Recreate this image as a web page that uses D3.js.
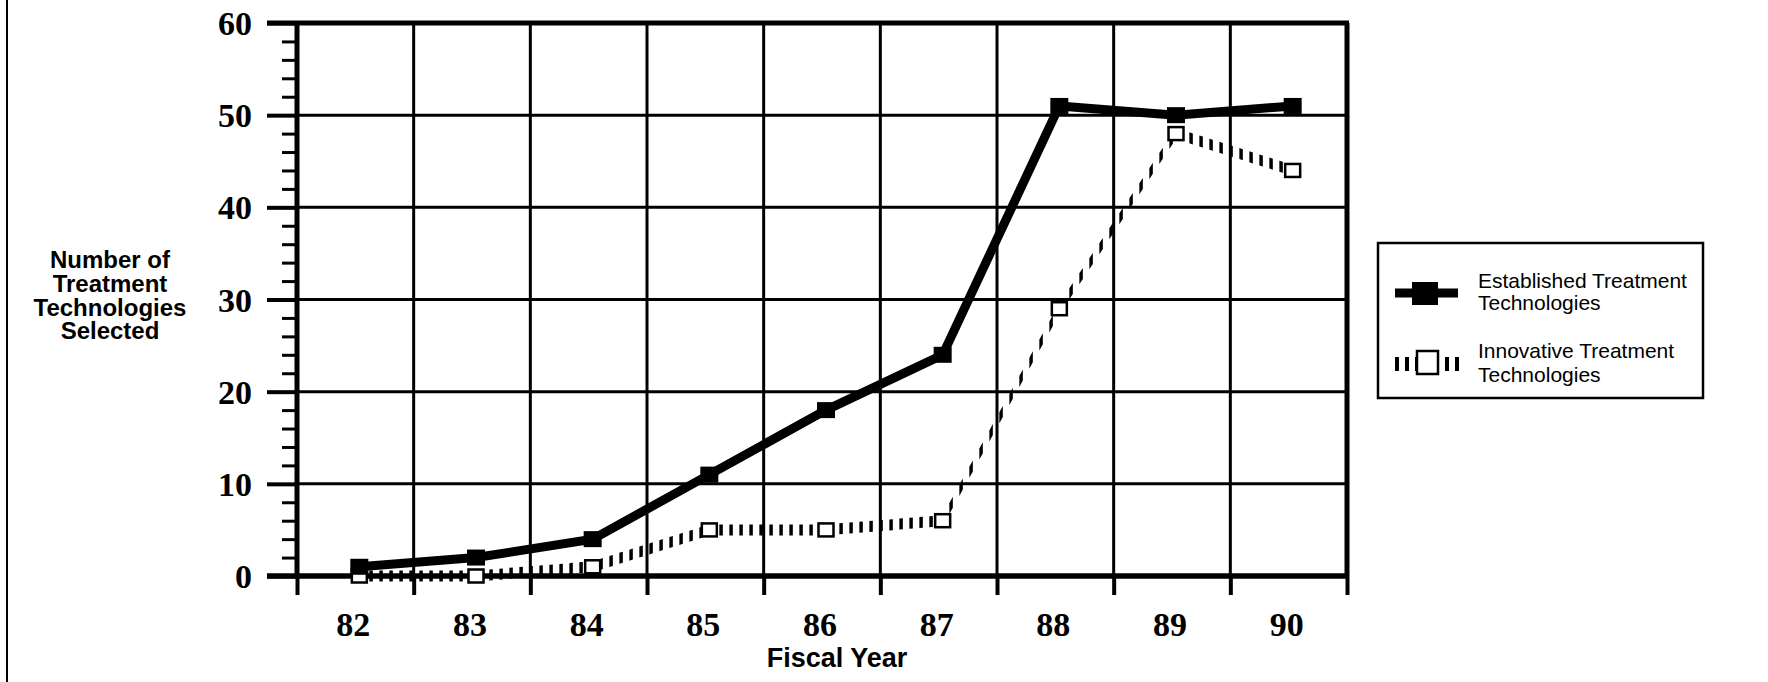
<!DOCTYPE html>
<html>
<head>
<meta charset="utf-8">
<script src="https://cdn.jsdelivr.net/npm/d3@7"></script>
<style>
  body { margin: 0; background: #fff; }
  svg { display: block; }
  .ylab text, .xlab text { font-family: "Liberation Serif", "Times New Roman", serif; font-weight: bold; font-size: 34px; fill: #000; }
  .title { font-family: "Liberation Sans", Arial, sans-serif; font-weight: bold; fill: #000; }
  .legend text { font-family: "Liberation Sans", Arial, sans-serif; font-size: 21px; fill: #000; }
</style>
</head>
<body>
<svg width="1768" height="682"></svg>
<script>
// values
var years = ["82", "83", "84", "85", "86", "87", "88", "89", "90"];
var established = [1, 2, 4, 11, 18, 24, 51, 50, 51];
var innovative = [0, 0, 1, 5, 5, 6, 29, 48, 44];
var yTicks = [0, 10, 20, 30, 40, 50, 60];
var yMinor = [2, 4, 6, 8, 12, 14, 16, 18, 22, 24, 26, 28, 32, 34, 36, 38, 42, 44, 46, 48, 52, 54, 56, 58];
var legendNames = [["Established Treatment", "Technologies"], ["Innovative Treatment", "Technologies"]];
var yTitle = ["Number of", "Treatment", "Technologies", "Selected"];

var svg = d3.select("svg"),
    margin = {top: 23, left: 297},
    width = 1050,
    height = 553,
    g = svg.append("g").attr("transform", "translate(" + margin.left + "," + margin.top + ")");

svg.append("rect").attr("width", 1768).attr("height", 682).attr("fill", "#fff").lower();

// scan border on the far left
svg.append("line")
    .attr("x1", 7).attr("x2", 7).attr("y1", 0).attr("y2", 682)
    .attr("stroke", "#000").attr("stroke-width", 2);

var x = d3.scaleBand().domain(years).range([0, width]);
var xEdge = d3.scaleLinear().domain([0, years.length]).range([0, width]);
var y = d3.scaleLinear().domain([0, 60]).range([height, 0]);

function cx(i) { return x(years[i]) + x.bandwidth() / 2; }

// horizontal grid lines
g.append("g")
  .selectAll("line")
  .data(yTicks.slice(1, -1))
  .enter().append("line")
    .attr("x1", 0).attr("x2", width)
    .attr("y1", function(d) { return y(d); })
    .attr("y2", function(d) { return y(d); })
    .attr("stroke", "#000").attr("stroke-width", 3);

// vertical grid lines at the category edges
g.append("g")
  .selectAll("line")
  .data(d3.range(1, years.length))
  .enter().append("line")
    .attr("x1", function(d) { return xEdge(d); })
    .attr("x2", function(d) { return xEdge(d); })
    .attr("y1", 0).attr("y2", height)
    .attr("stroke", "#000").attr("stroke-width", 3);

// frame top and right
g.append("line").attr("x1", -30).attr("x2", width + 2).attr("y1", 0).attr("y2", 0)
    .attr("stroke", "#000").attr("stroke-width", 5);
g.append("line").attr("x1", width).attr("x2", width).attr("y1", 0).attr("y2", height)
    .attr("stroke", "#000").attr("stroke-width", 5);

// Y axis: major ticks with labels, minor ticks
var yAxis = d3.axisLeft(y).tickValues(yTicks).tickSize(30).tickPadding(15).tickFormat(d3.format("d"));
var ya = g.append("g").attr("class", "ylab").call(yAxis);
ya.select(".domain").remove();
ya.selectAll(".tick line").attr("stroke", "#000").attr("stroke-width", 4);
ya.selectAll(".tick text").attr("font-size", null).attr("font-family", null).attr("dy", "0.34em");

var ym = g.append("g").call(d3.axisLeft(y).tickValues(yMinor).tickSize(15).tickFormat(""));
ym.select(".domain").remove();
ym.selectAll(".tick line").attr("stroke", "#000").attr("stroke-width", 3);

g.append("line").attr("x1", 0).attr("x2", 0).attr("y1", -2).attr("y2", height)
    .attr("stroke", "#000").attr("stroke-width", 5);

// X axis: ticks at category edges, labels at centres
var xe = g.append("g").attr("transform", "translate(0," + height + ")")
    .call(d3.axisBottom(xEdge).tickValues(d3.range(0, years.length + 1)).tickSize(19).tickFormat(""));
xe.select(".domain").remove();
xe.selectAll(".tick line").attr("stroke", "#000").attr("stroke-width", 4);

var xl = g.append("g").attr("class", "xlab").attr("transform", "translate(-2," + height + ")")
    .call(d3.axisBottom(x).tickSize(0).tickPadding(60));
xl.select(".domain").remove();
xl.selectAll(".tick text").attr("font-size", null).attr("font-family", null).attr("dy", "0");

g.append("line").attr("x1", -30).attr("x2", width + 2).attr("y1", height).attr("y2", height)
    .attr("stroke", "#000").attr("stroke-width", 5.5);

// axis titles
svg.append("text").attr("class", "title")
    .attr("x", 837).attr("y", 667)
    .attr("text-anchor", "middle").attr("font-size", 27)
    .text("Fiscal Year");

svg.append("text").attr("class", "title")
    .attr("x", 110).attr("y", 268)
    .attr("text-anchor", "middle").attr("font-size", 24)
  .selectAll("tspan")
  .data(yTitle)
  .enter().append("tspan")
    .attr("x", 110)
    .attr("dy", function(d, i) { return i ? 23.8 : 0; })
    .text(function(d) { return d; });

// hatched line: short vertical strokes placed every `step` px of x
function hatch(pts, step, dashW, pen) {
  var out = "";
  function yAt(px) {
    for (var i = 0; i < pts.length - 1; i++) {
      var a = pts[i], b = pts[i + 1];
      if (px <= b[0] || i === pts.length - 2) {
        var t = (px - a[0]) / (b[0] - a[0]);
        return a[1] + t * (b[1] - a[1]);
      }
    }
  }
  var xEnd = pts[pts.length - 1][0];
  for (var t = pts[0][0]; t < xEnd; t += step) {
    var t2 = Math.min(t + dashW, xEnd);
    var ya1 = yAt(t), yb1 = yAt(t2);
    out += "M" + t + "," + (ya1 - pen / 2) + "L" + t2 + "," + (yb1 - pen / 2) +
           "L" + t2 + "," + (yb1 + pen / 2) + "L" + t + "," + (ya1 + pen / 2) + "Z";
  }
  return out;
}

// the plotted points sit a little right of the band centres in the original
var series = g.append("g").attr("transform", "translate(4,0)");

var innovPts = innovative.map(function(d, i) { return [cx(i), y(d)]; });
series.append("path")
    .attr("d", hatch(innovPts, 10, 3.5, 11))
    .attr("fill", "#000");

series.append("g")
  .selectAll("rect")
  .data(innovative)
  .enter().append("rect")
    .attr("x", function(d, i) { return cx(i) - 7.5; })
    .attr("y", function(d) { return y(d) - 6.5; })
    .attr("width", 15).attr("height", 13)
    .attr("fill", "#fff").attr("stroke", "#000").attr("stroke-width", 2.5);

var line = d3.line()
    .x(function(d, i) { return cx(i); })
    .y(function(d) { return y(d); });

series.append("path")
    .attr("d", line(established))
    .attr("fill", "none").attr("stroke", "#000")
    .attr("stroke-width", 9).attr("stroke-linejoin", "miter").attr("stroke-miterlimit", 2);

series.append("g")
  .selectAll("rect")
  .data(established)
  .enter().append("rect")
    .attr("x", function(d, i) { return cx(i) - 9; })
    .attr("y", function(d) { return y(d) - 8; })
    .attr("width", 18).attr("height", 16)
    .attr("fill", "#000");

// legend
var lg = svg.append("g").attr("class", "legend");
lg.append("rect")
    .attr("x", 1378).attr("y", 243).attr("width", 325).attr("height", 155)
    .attr("fill", "#fff").attr("stroke", "#000").attr("stroke-width", 2.5);

lg.append("line").attr("x1", 1395).attr("x2", 1458).attr("y1", 293).attr("y2", 293)
    .attr("stroke", "#000").attr("stroke-width", 9);
lg.append("rect").attr("x", 1412).attr("y", 282).attr("width", 26).attr("height", 23).attr("fill", "#000");

lg.append("path").attr("d", hatch([[1395, 364], [1460, 364]], 10, 4, 14)).attr("fill", "#000");
lg.append("rect").attr("x", 1417).attr("y", 351).attr("width", 21).attr("height", 23)
    .attr("fill", "#fff").attr("stroke", "#000").attr("stroke-width", 2.5);

var baselines = [[288, 310], [358, 382]];
legendNames.forEach(function(lines, k) {
  lines.forEach(function(s, j) {
    lg.append("text").attr("x", 1478).attr("y", baselines[k][j]).text(s);
  });
});
</script>
</body>
</html>
